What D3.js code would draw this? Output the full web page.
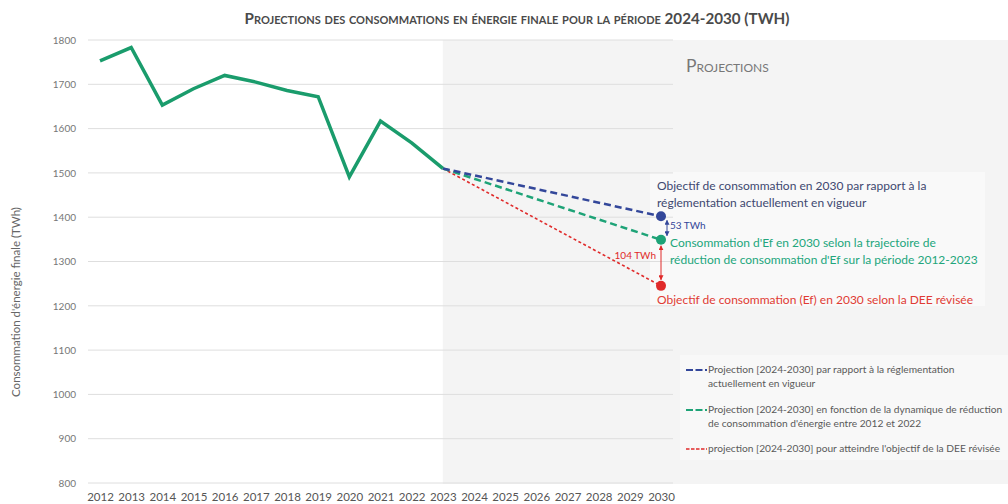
<!DOCTYPE html>
<html><head><meta charset="utf-8">
<script src="https://cdn.jsdelivr.net/npm/d3@7/dist/d3.min.js"></script>
<style>body{margin:0;background:#fff}svg{display:block;font-family:Lato,"Open Sans",sans-serif}</style>
</head><body><svg id="c" width="1008" height="504"></svg>
<script>
const years = [2012,2013,2014,2015,2016,2017,2018,2019,2020,2021,2022,2023,2024,2025,2026,2027,2028,2029,2030];
const histYears = [2012,2013,2014,2015,2016,2017,2018,2019,2020,2021,2022,2023];
const histValues = [1753,1783,1653,1690,1720,1705,1686,1672,1491,1617,1568,1510];
const projYears = [2023,2030];
const projReglementation = [1510,1402];
const projTendance = [1510,1349];
const projDEE = [1510,1245];
const yTicks = [800,900,1000,1100,1200,1300,1400,1500,1600,1700,1800];

const svg = d3.select("#c");
const x = d3.scalePoint().domain(years).range([100,661]);
const y = d3.scaleLinear().domain([800,1800]).range([483,40]);

// shaded projection zone
svg.append("rect").attr("x",x(2023)).attr("y",40).attr("width",1008-x(2023)).attr("height",444).attr("fill","#f4f4f4");
svg.append("rect").attr("x",650).attr("y",172).attr("width",335).attr("height",134).attr("fill","#f9f9f9");
svg.append("rect").attr("x",680).attr("y",355).attr("width",328).attr("height",105).attr("fill","#f8f8f8");

// grid
svg.append("g").selectAll("line").data(yTicks).join("line")
  .attr("x1",88).attr("x2",673).attr("y1",d=>y(d)).attr("y2",d=>y(d))
  .attr("stroke","#dedede").attr("stroke-width",1);

// y axis
const ya = svg.append("g").attr("transform","translate(88,0)")
  .call(d3.axisLeft(y).tickValues(yTicks).tickSize(0).tickPadding(12).tickFormat(d3.format("d")));
ya.select(".domain").remove();
ya.selectAll("text").attr("fill","#777").attr("font-size",10).attr("font-family","Lato,sans-serif");

// x axis
const xa = svg.append("g").attr("transform","translate(0,488)")
  .call(d3.axisBottom(x).tickSize(0).tickPadding(5));
xa.select(".domain").remove();
xa.selectAll("text").attr("fill","#555").attr("font-size",11.5).attr("font-family","Lato,sans-serif");

// y title
svg.append("text").attr("transform","translate(20,302) rotate(-90)").attr("text-anchor","middle")
  .attr("font-size",11.5).attr("fill","#666").text("Consommation d'énergie finale (TWh)");

// title
svg.append("text").attr("x",517).attr("y",24).attr("text-anchor","middle")
  .attr("font-size",15.2).attr("font-weight","bold").attr("fill","#4a4a4a").style("font-variant","small-caps")
  .text("Projections des consommations en énergie finale pour la période 2024-2030 (TWH)");
svg.append("text").attr("x",686).attr("y",72).attr("font-size",17.5).attr("fill","#777").style("font-variant","small-caps")
  .text("Projections");

// lines
const line = d3.line().x(d=>x(d[0])).y(d=>y(d[1]));
const cBlue="#33479a", cGreen="#1ea377", cRed="#e02a2a";
svg.append("path").datum(projYears.map((d,i)=>[d,projDEE[i]])).attr("d",line)
  .attr("fill","none").attr("stroke",cRed).attr("stroke-width",1.6).attr("stroke-dasharray","3,2.5");
svg.append("path").datum(projYears.map((d,i)=>[d,projTendance[i]])).attr("d",line)
  .attr("fill","none").attr("stroke",cGreen).attr("stroke-width",2.5).attr("stroke-dasharray","7,4");
svg.append("path").datum(projYears.map((d,i)=>[d,projReglementation[i]])).attr("d",line)
  .attr("fill","none").attr("stroke",cBlue).attr("stroke-width",2.5).attr("stroke-dasharray","7,4");
svg.append("path").datum(histYears.map((d,i)=>[d,histValues[i]])).attr("d",line)
  .attr("fill","none").attr("stroke","#1a9c6c").attr("stroke-width",3.5).attr("stroke-linejoin","miter");

// end points
const ends = [[projReglementation[1],cBlue],[projTendance[1],cGreen],[projDEE[1],cRed]];
svg.append("g").selectAll("circle").data(ends).join("circle")
  .attr("cx",x(2030)).attr("cy",d=>y(d[0])).attr("r",5).attr("fill",d=>d[1]);

// arrows
const defs = svg.append("defs");
[["b",cBlue],["r",cRed]].forEach(([id,c])=>{
  defs.append("marker").attr("id","a"+id).attr("viewBox","0 0 10 10").attr("refX",9).attr("refY",5)
    .attr("markerWidth",5).attr("markerHeight",5).attr("orient","auto-start-reverse")
    .append("path").attr("d","M0,0L10,5L0,10z").attr("fill",c);
});
svg.append("line").attr("x1",667).attr("x2",667).attr("y1",y(projReglementation[1])+4).attr("y2",y(projTendance[1])-4)
  .attr("stroke",cBlue).attr("stroke-width",1).attr("marker-start","url(#ab)").attr("marker-end","url(#ab)");
svg.append("line").attr("x1",661).attr("x2",661).attr("y1",y(projTendance[1])+6).attr("y2",y(projDEE[1])-6)
  .attr("stroke",cRed).attr("stroke-width",1).attr("marker-start","url(#ar)").attr("marker-end","url(#ar)");
svg.append("text").attr("x",670).attr("y",229).attr("font-size",10).attr("fill",cBlue)
  .text((projReglementation[1]-projTendance[1])+" TWh");
svg.append("text").attr("x",656).attr("y",259).attr("text-anchor","end").attr("font-size",10).attr("fill",cRed)
  .text((projTendance[1]-projDEE[1])+" TWh");

// annotations
function multi(xx,yy,lines,col,fs,lh){
  const tx=svg.append("text").attr("x",xx).attr("y",yy).attr("font-size",fs).attr("fill",col);
  lines.forEach((l,i)=>tx.append("tspan").attr("x",xx).attr("dy",i?lh:0).text(l));
}
multi(657,190,["Objectif de consommation en 2030 par rapport à la","réglementation actuellement en vigueur"],"#404870",12,17);
multi(670,247,["Consommation d'Ef en 2030 selon la trajectoire de","réduction de consommation d'Ef sur la période 2012-2023"],"#22a67c",12,17);
multi(657,304,["Objectif de consommation (Ef)  en 2030 selon la DEE révisée"],"#e03b34",12,17);

// legend
const leg = [
  [cBlue,"7,2.5",2,["Projection [2024-2030] par rapport à la réglementation","actuellement en vigueur"],373],
  [cGreen,"7,2.5",2,["Projection [2024-2030] en fonction de la dynamique de réduction","de consommation d'énergie entre 2012 et 2022"],413],
  [cRed,"3.5,1.5",1.3,["projection [2024-2030] pour atteindre l'objectif de la DEE révisée"],452]
];
leg.forEach(([c,da,w,lines,yy])=>{
  svg.append("line").attr("x1",686).attr("x2",707).attr("y1",yy-3).attr("y2",yy-3)
    .attr("stroke",c).attr("stroke-width",w).attr("stroke-dasharray",da);
  multi(708,yy,lines,"#5a5a5a",10.2,14);
});
</script></body></html>
